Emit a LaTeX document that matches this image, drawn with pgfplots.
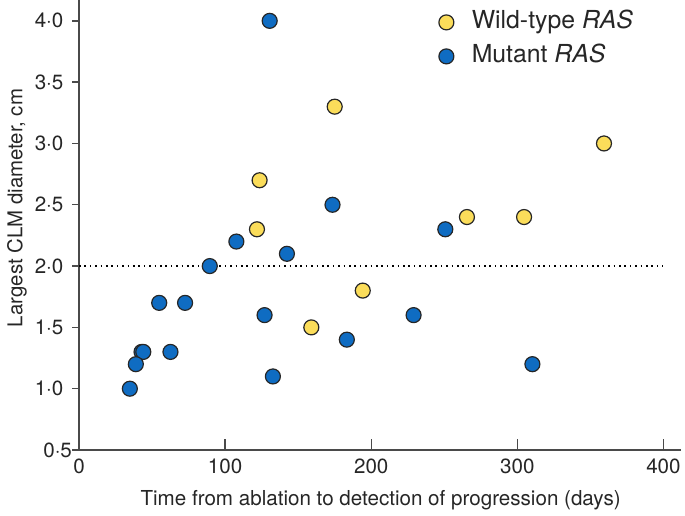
\documentclass[border=0pt]{standalone}
\usepackage{fontspec}
\setmainfont{TeX Gyre Heros}
\usepackage{pgfplots}
\pgfplotsset{compat=1.18}
\definecolor{wtyellow}{HTML}{FBDD5A}
\definecolor{mutblue}{HTML}{0F6CC2}
\definecolor{axgray}{HTML}{4A4A4A}
\begin{document}
\begin{tikzpicture}
\path[use as bounding box] (-39.5pt,-32.5pt) rectangle (303pt,225pt);
\begin{axis}[
  scale only axis,
  width=301pt, height=225pt,
  xmin=0, xmax=412, ymin=0.5, ymax=4.17,
  axis lines=left,
  x axis line style={-, axgray, line width=0.7pt},
  y axis line style={-, axgray, line width=0.7pt},
  xtick={100,200,300,400},
  extra x ticks={0}, extra x tick style={/pgfplots/major tick length=0pt},
  xticklabels={100,200,300,400},
  extra x tick labels={0},
  ytick={1,1.5,2,2.5,3,3.5,4},
  yticklabels={1·0,1·5,2·0,2·5,3·0,3·5,4·0},
  extra y ticks={0.5}, extra y tick labels={0·5},
  extra y tick style={/pgfplots/major tick length=0pt},
  xtick align=inside, ytick align=outside,
  tick style={axgray, line width=0.7pt},
  x tick style={/pgfplots/major tick length=5.5pt},
  y tick style={/pgfplots/major tick length=3.4pt},
  tick label style={font=\fontsize{10.3}{12}\selectfont, text=black!85},
  xticklabel style={yshift=-1pt},
  xlabel={Time from ablation to detection of progression (days)},
  ylabel={Largest CLM diameter, cm},
  xlabel style={font=\fontsize{10.3}{12}\selectfont, text=black!85, at={(axis description cs:0.501,-0.111)}, anchor=center},
  ylabel style={font=\fontsize{10.2}{12}\selectfont, text=black!85, at={(axis description cs:-0.103,0.538)}, anchor=center},
  legend image code/.code={\draw[#1] plot coordinates {(0pt,0pt)}; \path (-6pt,0pt) (12.5pt,0pt);},
  legend style={draw=none, fill=none, inner sep=0pt, at={(axis description cs:0.589,1.0)}, anchor=north west,
    yshift=-5pt,
    nodes={inner sep=0pt, text height=9pt, text depth=3pt},
    font=\fontsize{12.4}{14}\selectfont, text=black!85, row sep=5pt},
  legend cell align=left,
  clip=false,
]
\addplot[only marks, mark=*, mark size=3.75pt, mark options={fill=wtyellow, draw=black!85, line width=0.6pt}]
  coordinates {(175,3.3) (123.6,2.7) (121.8,2.3) (159,1.5) (194.2,1.8) (265.5,2.4) (304.6,2.4) (359.3,3.0)};
\addlegendentry{Wild-type \textit{RAS}}
\addplot[only marks, mark=*, mark size=3.75pt, mark options={fill=mutblue, draw=black!85, line width=0.6pt}]
  coordinates {(130.5,4.0) (173.5,2.5) (107.7,2.2) (142.3,2.1) (89.5,2.0) (54.9,1.7) (72.6,1.7)
    (127,1.6) (183.3,1.4) (42.8,1.3) (44,1.3) (62.6,1.3) (38.9,1.2) (34.8,1.0) (132.7,1.1)
    (229,1.6) (310.3,1.2) (250.7,2.3)};
\addlegendentry{Mutant \textit{RAS}}
\addplot[forget plot, black, line width=0.8pt, dash pattern=on 0.8pt off 1.9pt] coordinates {(0,2) (400,2)};
\end{axis}
\end{tikzpicture}
\end{document}
